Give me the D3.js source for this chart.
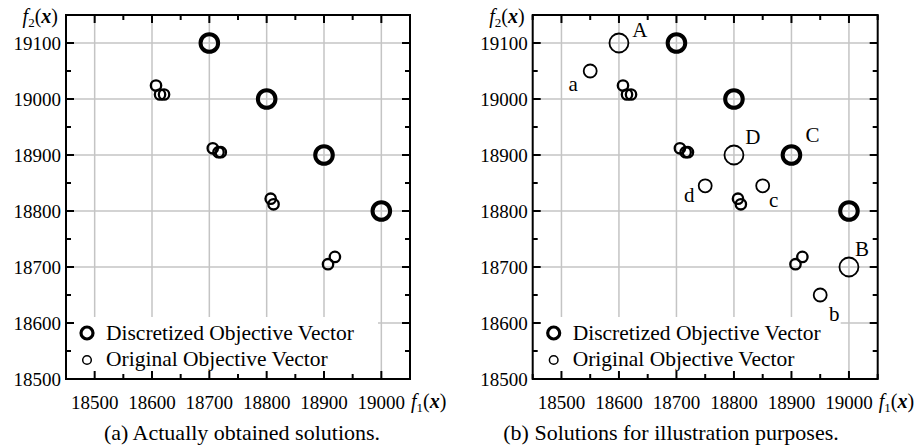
<!DOCTYPE html>
<html><head><meta charset="utf-8">
<script src="https://cdn.jsdelivr.net/npm/d3@7"></script>
<style>
html,body{margin:0;padding:0;background:#fff;}
svg, svg text{font-family:'Liberation Serif','DejaVu Serif',serif;}
</style></head>
<body><svg id="c" width="920" height="448" font-family="Liberation Serif"></svg>
<script>
// ---- data ----
const xTickValues = [18500, 18600, 18700, 18800, 18900, 19000];
const yTickValues = [18500, 18600, 18700, 18800, 18900, 19000, 19100];
const discretizedX = [18700, 18800, 18900, 19000];
const discretizedY = [19100, 19000, 18900, 18800];
const originalX = [18607, 18614, 18621, 18706, 18716, 18720, 18807, 18812, 18907, 18919];
const originalY = [19024, 19008, 19008, 18912, 18905, 18905, 18822, 18812, 18705, 18718];
// illustration points (panel b)
const illusNames = ["A", "a", "D", "d", "c", "B", "b"];
const illusX = [18600, 18550, 18800, 18750, 18850, 19000, 18950];
const illusY = [19100, 19050, 18900, 18845, 18845, 18700, 18650];
const illusBig = [true, false, true, false, false, true, false];
const legendLabels = ["Discretized Objective Vector", "Original Objective Vector"];
const captions = ["(a) Actually obtained solutions.", "(b) Solutions for illustration purposes."];

const FONT = "Liberation Serif, DejaVu Serif, serif";
const svg = d3.select("#c");
const GRID = "#c4c4c4";

function axisLabel(g, x, y, sub, anchor) {
  const t = g.append("text").attr("x", x).attr("y", y).attr("font-size", 20).attr("font-family", FONT).attr("text-anchor", anchor || "start");
  t.append("tspan").attr("font-style", "italic").text("f");
  t.append("tspan").attr("font-size", 13).attr("dy", 4).text(sub);
  t.append("tspan").attr("dy", -4).text("(");
  t.append("tspan").attr("font-style", "italic").attr("font-weight", "bold").text("x");
  t.append("tspan").text(")");
}

function panel(left, right, opts) {
  const top = 15, bottom = 379;
  const x = d3.scaleLinear().domain([18450, 19050]).range([left, right]);
  const y = d3.scaleLinear().domain([18500, 19150]).range([bottom, top]);
  const g = svg.append("g").attr("font-family", FONT);

  // grid
  g.selectAll(".gx").data(xTickValues).join("line")
    .attr("x1", d => x(d)).attr("x2", d => x(d)).attr("y1", top).attr("y2", bottom)
    .attr("stroke", GRID).attr("stroke-width", 1.5);
  g.selectAll(".gy").data(yTickValues).join("line")
    .attr("x1", left).attr("x2", right).attr("y1", d => y(d)).attr("y2", d => y(d))
    .attr("stroke", GRID).attr("stroke-width", 1.5);

  // legend background
  g.append("rect").attr("x", left).attr("y", 317).attr("width", opts.legendW).attr("height", bottom - 317).attr("fill", "#fff");

  // ticks on all sides (inward)
  const xMinor = d3.range(18450, 19051, 50);
  const yMinor = d3.range(18500, 19151, 50);
  const tk = g.append("g").attr("stroke", "#000").attr("stroke-width", 2);
  xMinor.forEach(v => {
    const L = xTickValues.includes(v) ? 8 : 5;
    tk.append("line").attr("x1", x(v)).attr("x2", x(v)).attr("y1", bottom).attr("y2", bottom - L);
    tk.append("line").attr("x1", x(v)).attr("x2", x(v)).attr("y1", top).attr("y2", top + L);
  });
  yMinor.forEach(v => {
    const L = yTickValues.includes(v) ? 8 : 5;
    tk.append("line").attr("y1", y(v)).attr("y2", y(v)).attr("x1", left).attr("x2", left + L);
    tk.append("line").attr("y1", y(v)).attr("y2", y(v)).attr("x1", right).attr("x2", right - L);
  });
  g.append("rect").attr("x", left).attr("y", top).attr("width", right - left).attr("height", bottom - top)
    .attr("fill", "none").attr("stroke", "#000").attr("stroke-width", 2);

  // tick labels
  g.selectAll(".xl").data(xTickValues).join("text")
    .attr("x", d => x(d)).attr("y", 409).attr("text-anchor", "middle").attr("font-size", 19).attr("font-family", FONT).text(d => d);
  g.selectAll(".yl").data(yTickValues).join("text")
    .attr("x", left - 5).attr("y", d => y(d) + 6.5).attr("text-anchor", "end").attr("font-size", 19).attr("font-family", FONT).text(d => d);

  axisLabel(g, left - 8, 23, "2", "end");
  axisLabel(g, right + 1, 408, "1", "start");

  // data
  g.selectAll(".orig").data(originalX).join("circle")
    .attr("cx", d => x(d)).attr("cy", (d, i) => y(originalY[i])).attr("r", 5.2)
    .attr("fill", "none").attr("stroke", "#000").attr("stroke-width", 2.3);
  g.selectAll(".disc").data(discretizedX).join("circle")
    .attr("cx", d => x(d)).attr("cy", (d, i) => y(discretizedY[i])).attr("r", 8.8)
    .attr("fill", "none").attr("stroke", "#000").attr("stroke-width", 4);

  if (opts.illus) {
    g.selectAll(".il").data(illusX).join("circle")
      .attr("cx", d => x(d)).attr("cy", (d, i) => y(illusY[i])).attr("r", (d, i) => illusBig[i] ? 9.5 : 6.5)
      .attr("fill", "none").attr("stroke", "#000").attr("stroke-width", 1.8);
    const off = {A: [21, -13], a: [-17, 13], D: [19, -18], d: [-16, 9], c: [11, 14], B: [13, -18], b: [14, 19], C: [21, -20]};
    const labX = illusX.concat([18900]);
    const labY = illusY.concat([18900]);
    const labN = illusNames.concat(["C"]);
    g.selectAll(".lt").data(labN).join("text")
      .attr("x", (d, i) => x(labX[i]) + off[d][0]).attr("y", (d, i) => y(labY[i]) + off[d][1] + 7)
      .attr("text-anchor", "middle").attr("font-size", 21).attr("font-family", FONT).text(d => d);
  }

  // legend
  const lx = left + 21;
  g.append("circle").attr("cx", lx).attr("cy", 333).attr("r", 6).attr("fill", "none").attr("stroke", "#000").attr("stroke-width", 3.2);
  g.append("circle").attr("cx", lx).attr("cy", 360).attr("r", 4.3).attr("fill", "none").attr("stroke", "#000").attr("stroke-width", 1.5);
  g.selectAll(".lg").data(legendLabels).join("text")
    .attr("x", left + 40).attr("y", (d, i) => 340 + i * 26).attr("font-size", 21.5).attr("font-family", FONT).text(d => d);

  // caption
  g.append("text").attr("x", opts.capX).attr("y", 440).attr("text-anchor", "middle").attr("font-size", 22).attr("font-family", FONT).text(opts.caption);
}

panel(66, 410, {legendW: 312, illus: false, caption: captions[0], capX: 242});
panel(532.7, 877.7, {legendW: 308, illus: true, caption: captions[1], capX: 671});
</script></body></html>
